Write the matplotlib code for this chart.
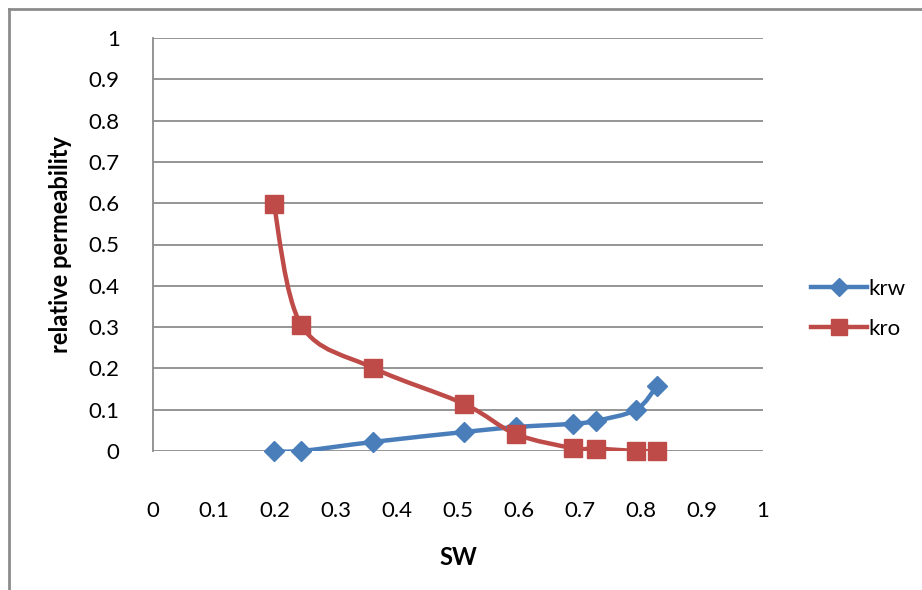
import numpy as np
import matplotlib
matplotlib.use("Agg")
import matplotlib.pyplot as plt
from matplotlib.path import Path
from matplotlib.patches import PathPatch
from matplotlib.lines import Line2D

plt.rcParams['font.family'] = ['Lato', 'DejaVu Sans']

# water saturation and relative permeabilities
sw = [0.198, 0.243, 0.361, 0.510, 0.595, 0.689, 0.726, 0.792, 0.826]
krw = [0.0, 0.0, 0.022, 0.046, 0.058, 0.066, 0.073, 0.100, 0.157]
kro = [0.597, 0.305, 0.201, 0.114, 0.041, 0.007, 0.006, 0.0, 0.0]

xticks = [0, 0.1, 0.2, 0.3, 0.4, 0.5, 0.6, 0.7, 0.8, 0.9, 1]
yticks = [0, 0.1, 0.2, 0.3, 0.4, 0.5, 0.6, 0.7, 0.8, 0.9, 1]

blue = '#4a7ebb'
red = '#be4b48'


def smooth_path(x, y):
    # bezier path through the points, same idea as a spreadsheet "smoothed line"
    pts = np.column_stack([x, y])
    n = len(pts)
    verts = [pts[0]]
    codes = [Path.MOVETO]
    for i in range(n - 1):
        p0 = pts[max(i - 1, 0)]
        p1 = pts[i]
        p2 = pts[i + 1]
        p3 = pts[min(i + 2, n - 1)]
        c1 = p1 + (p2 - p0) / 6.0
        c2 = p2 - (p3 - p1) / 6.0
        verts += [c1, c2, p2]
        codes += [Path.CURVE4] * 3
    return Path(verts, codes)


fig = plt.figure(figsize=(9.22, 5.9), dpi=100)
ax = fig.add_axes([153 / 922, 1 - 451 / 590, 610 / 922, 413 / 590])

for y_vals, col, mk, ms in [(krw, blue, 'D', 10), (kro, red, 's', 13)]:
    ax.add_patch(PathPatch(smooth_path(sw, y_vals), fill=False, edgecolor=col,
                           linewidth=3.2, capstyle='round', joinstyle='round', zorder=3))
    ax.plot(sw, y_vals, linestyle='none', marker=mk, markersize=ms,
            color=col, markeredgecolor=col, zorder=4, clip_on=False)

ax.set_xlim(0, 1)
ax.set_ylim(0, 1)
ax.set_xticks(xticks)
ax.set_yticks(yticks)
ax.set_xticklabels([f'{t:g}' for t in xticks])
ax.set_yticklabels([f'{t:g}' for t in yticks])
ax.tick_params(axis='both', length=0, labelsize=16)
ax.tick_params(axis='x', pad=36)
ax.tick_params(axis='y', pad=24)
ax.grid(axis='y', color='#8c8c8c', linewidth=1.3)
ax.set_axisbelow(True)
for side in ['top', 'right', 'bottom']:
    ax.spines[side].set_visible(False)
ax.spines['left'].set_color('#8c8c8c')
ax.spines['left'].set_linewidth(1.3)

ax.set_ylabel('relative permeability', fontsize=17, fontweight='bold', labelpad=12)
ax.set_xlabel('SW', fontsize=17, fontweight='bold', labelpad=18)

handles = [Line2D([], [], color=blue, linewidth=3.2, marker='D', markersize=9),
           Line2D([], [], color=red, linewidth=3.2, marker='s', markersize=12)]
fig.legend(handles, ['krw', 'kro'], loc='center left', bbox_to_anchor=(791 / 922, 1 - 309 / 590),
           frameon=False, fontsize=16, handlelength=2.5, labelspacing=0.9, handletextpad=0.1)

# chart border (top and left edges)
fig.add_artist(Line2D([9 / 922, 1], [1 - 9 / 590, 1 - 9 / 590], color='#8c8c8c', linewidth=2))
fig.add_artist(Line2D([9 / 922, 9 / 922], [0, 1 - 9 / 590], color='#8c8c8c', linewidth=2))

fig.savefig('out.png', dpi=100)
